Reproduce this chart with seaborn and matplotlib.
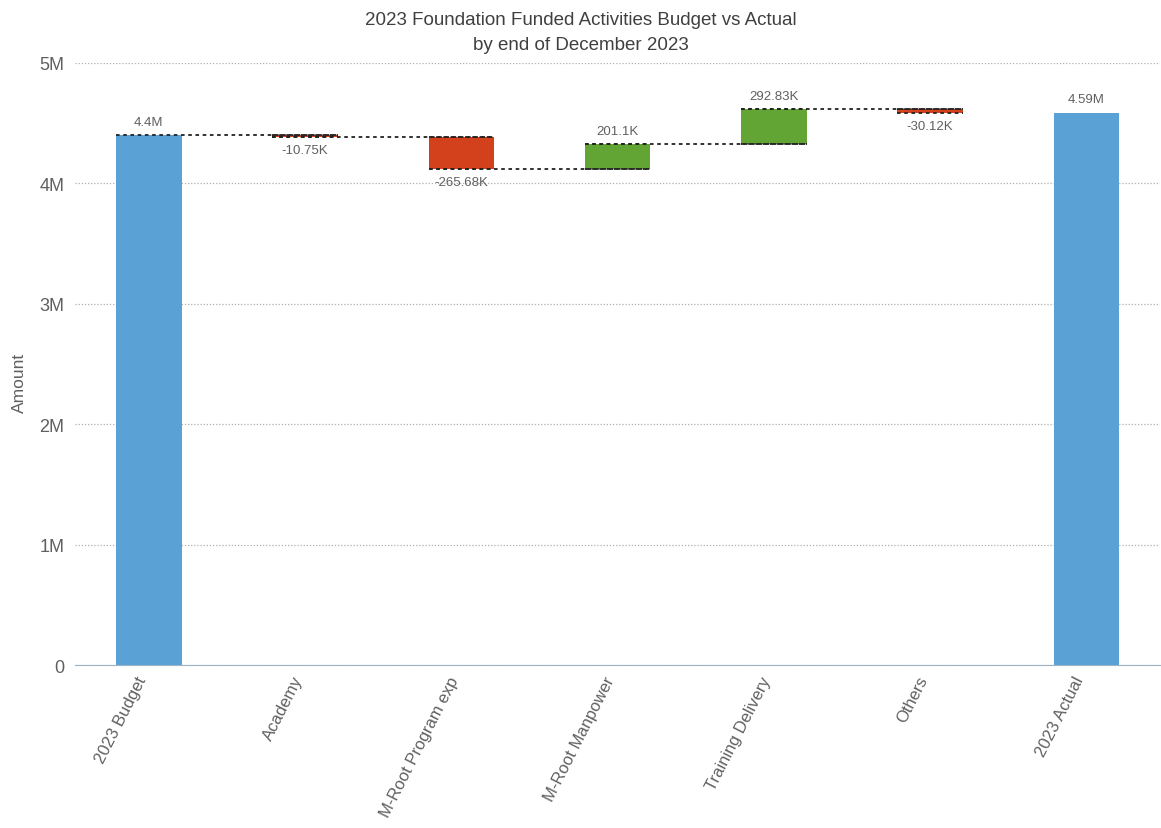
import numpy as np
import pandas as pd
import matplotlib
matplotlib.use('Agg')
import matplotlib.pyplot as plt
import seaborn as sns
from matplotlib.ticker import FuncFormatter

# 数据
categories = ['2023 Budget', 'Academy', 'M-Root Program exp', 'M-Root Manpower',
              'Training Delivery', 'Others', '2023 Actual']
budget = 4_400_000
deltas = [-10_750, -265_680, 201_100, 292_830, -30_120]

colors = {'total': '#5AA2D5', 'neg': '#D2401C', 'pos': '#62A534'}
text_grey = '#606060'

# 计算瀑布图的底和高
actual = budget + sum(deltas)
bottoms, heights, kinds = [0], [budget], ['total']
running = budget
for d in deltas:
    bottoms.append(min(running, running + d))
    heights.append(abs(d))
    kinds.append('pos' if d > 0 else 'neg')
    running += d
bottoms.append(0)
heights.append(actual)
kinds.append('total')

df = pd.DataFrame({'Category': categories, 'Height': heights, 'Bottom': bottoms, 'Kind': kinds})


def fmt_val(v):
    if abs(v) >= 1e6:
        return f"{v / 1e6:.2f}".rstrip('0').rstrip('.') + 'M'
    return f"{v / 1e3:.2f}".rstrip('0').rstrip('.') + 'K'


sns.set_style('white')
plt.rcParams['font.family'] = ['Liberation Sans', 'DejaVu Sans']

fig = plt.figure(figsize=(11.61, 8.29), dpi=100)
ax = fig.add_axes([0.065, 0.1966, 0.934, 0.7262])

sns.barplot(data=df, x='Category', y='Height', bottom=df['Bottom'].to_numpy(),
            color=colors['total'], width=0.42, ax=ax, zorder=2)
for patch, k in zip(ax.patches, df['Kind']):
    patch.set_facecolor(colors[k])
    patch.set_edgecolor('none')

# 连接线
w = 0.42
levels = [budget]
running = budget
for d in deltas:
    running += d
    levels.append(running)
for i in range(len(deltas)):
    ax.hlines(levels[i], i - w / 2, i + 1 + w / 2, colors='#222222',
              linestyles=(0, (2, 2)), linewidth=1.3, zorder=3)
# 浮动柱子的边线
for i, d in enumerate(deltas, start=1):
    ax.hlines([levels[i - 1], levels[i]], i - w / 2, i + w / 2, colors='#222222',
              linestyles=(0, (2, 2)), linewidth=1.3, zorder=3)

# 数据标签
off = 0.11e6
ax.text(0, budget + off, fmt_val(budget), ha='center', va='center', fontsize=9.5, color=text_grey)
ax.text(6, actual + off, fmt_val(actual), ha='center', va='center', fontsize=9.5, color=text_grey)
for i, d in enumerate(deltas, start=1):
    if d > 0:
        y = levels[i] + off
    else:
        y = levels[i] - off
    ax.text(i, y, fmt_val(d), ha='center', va='center', fontsize=9.5, color=text_grey)

ax.set_ylim(0, 5e6)
ax.set_xlim(-0.47, 6.47)
ax.yaxis.set_major_formatter(FuncFormatter(lambda v, p: '0' if v == 0 else f'{v / 1e6:.0f}M'))
ax.set_yticks(np.arange(0, 5.1e6, 1e6))
ax.grid(axis='y', color='#b0b0b0', linestyle=(0, (1, 1.5)), linewidth=0.9, zorder=0)
ax.set_axisbelow(True)
for s in ['top', 'right', 'left']:
    ax.spines[s].set_visible(False)
ax.spines['bottom'].set_color('#9bb3c7')
ax.spines['bottom'].set_linewidth(0.8)
ax.tick_params(axis='x', length=0, labelsize=12, labelcolor=text_grey, pad=11)
ax.tick_params(axis='y', length=0, labelsize=13, labelcolor=text_grey, pad=8)
plt.setp(ax.get_xticklabels(), rotation=63, ha='right', va='bottom', rotation_mode='anchor')
ax.set_xlabel('')
ax.set_ylabel('Amount', fontsize=12.5, color=text_grey)
ax.yaxis.set_label_coords(-0.045, 0.47)

fig.suptitle('2023 Foundation Funded Activities Budget vs Actual\nby end of December 2023',
             y=0.985, fontsize=13.5, color='#404040', linespacing=1.55)

fig.savefig('out.png', dpi=100)
